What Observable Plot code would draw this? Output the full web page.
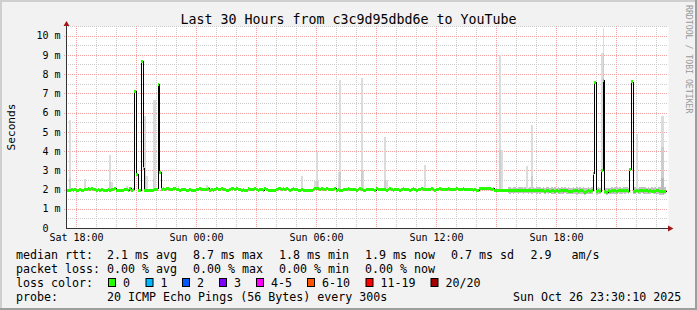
<!DOCTYPE html>
<html>
<head>
<meta charset="utf-8">
<script src="https://cdn.jsdelivr.net/npm/d3@7"></script>
<script src="https://cdn.jsdelivr.net/npm/@observablehq/plot@0.6"></script>
<style>
html, body { margin: 0; padding: 0; background: #f2f2f2; }
#chart { width: 697px; height: 310px; }
svg text { white-space: pre; }
</style>
</head>
<body>
<div id="chart"></div>
<script>
// ---------------- DATA ----------------
const titleText = "Last 30 Hours from c3c9d95dbd6e to YouTube";
const yAxisTitle = "Seconds";
const watermark = "RRDTOOL / TOBI OETIKER";

// 5-minute steps, starting Sat Oct 25 2025 17:30, ending Sun Oct 26 23:30
const startTime = Date.UTC(2025, 9, 25, 17, 30);
const endTime = Date.UTC(2025, 9, 26, 23, 30);
const stepMinutes = 5;

// median RTT (ms) per 5-minute step, 12 values per hour
const median = [
  1.96,1.95,2.0,2.03,1.98,2.02,1.96,1.99,2.03,2.0,1.97,2.02,
  2.05,2.06,2.04,2.06,2.05,2.03,2.0,2.04,1.98,2.01,1.96,1.99,
  2.0,2.03,1.97,2.05,2.02,2.06,1.99,1.96,2.0,1.96,1.97,2.03,
  2.05,2.0,2.06,1.98,2.02,7.1,2.8,2.0,1.96,8.7,3.1,1.97,
  1.96,1.95,2.0,1.97,1.99,2.03,2.05,7.5,2.9,2.04,2.06,2.05,
  2.08,2.07,2.03,2.05,2.08,2.06,2.01,2.04,1.98,2.02,2.05,2.03,
  2.0,1.97,2.01,1.96,1.95,2.0,2.04,2.03,2.06,2.02,2.05,2.04,
  2.03,2.06,2.0,2.05,1.99,2.04,2.07,2.05,2.03,2.08,2.04,2.02,
  2.0,1.97,2.04,2.06,2.1,2.05,2.08,2.03,2.04,2.0,2.03,1.97,
  2.0,2.06,2.04,2.02,2.05,2.07,2.04,1.99,2.03,2.01,1.97,2.06,
  2.04,2.0,1.97,1.96,2.0,1.97,2.04,2.06,2.1,2.05,2.07,2.03,
  2.06,2.04,2.0,2.03,2.07,2.05,2.02,1.98,1.99,2.04,2.0,1.98,
  1.97,1.97,1.98,1.99,2.04,2.07,2.1,2.06,2.04,2.08,2.05,2.03,
  2.07,2.05,2.03,2.04,2.02,2.06,1.99,2.04,2.0,1.97,2.02,2.05,
  2.04,2.06,2.03,2.01,2.05,2.03,1.98,2.02,2.06,2.03,2.0,1.99,
  2.02,2.04,2.03,2.05,2.02,2.0,2.06,2.03,2.04,2.01,2.05,2.02,
  1.99,2.02,2.06,2.03,2.0,2.04,2.05,2.01,1.98,2.03,2.06,2.02,
  2.05,2.03,2.0,2.04,2.06,2.02,1.99,2.03,2.05,2.07,2.02,2.04,
  2.01,2.05,2.03,2.06,2.02,2.0,2.04,2.03,2.07,2.04,2.01,2.05,
  2.03,2.06,2.04,2.02,2.05,2.03,2.07,2.05,2.02,2.04,2.06,2.03,
  2.05,2.02,2.04,2.03,1.99,2.02,2.0,1.98,2.08,2.09,2.1,2.08,
  2.09,2.06,2.07,2.05,2.08,1.96,1.96,1.97,1.96,1.96,1.97,1.96,
  1.96,1.97,1.95,1.97,1.96,1.98,1.96,1.95,1.97,1.96,1.98,1.96,
  1.97,1.95,1.96,1.98,1.96,1.97,1.95,1.96,1.97,1.95,1.96,1.94,
  1.96,1.95,1.93,1.95,1.97,1.94,1.96,1.92,1.95,1.97,1.93,1.96,
  1.95,1.93,1.9,1.94,1.96,1.95,1.97,1.93,1.95,1.96,1.92,1.88,
  1.93,1.96,1.92,1.95,2.88,7.6,1.9,1.95,1.93,3.0,7.7,1.92,
  1.88,1.95,1.93,1.96,1.92,1.95,1.94,1.97,1.95,1.99,1.96,1.98,
  1.96,1.94,3.05,7.62,1.9,1.93,1.96,1.92,1.95,1.97,1.94,1.96,
  1.95,1.92,1.96,1.94,1.97,1.93,1.95,1.96,1.92,1.94,1.85,1.9
];

// smoke spikes: step index, lightest top, mid top, dark top (ms)
const smokeIdx  = [2,   11,   26,  27,  36,  47,  48,  52,   53,   67,  84,   141, 149,  150,  151,  163,  164, 177, 178, 191,  192, 213,  215, 260, 261,  276, 279,  321, 322,  342, 357, 358];
const smokeTop  = [5.6, 2.55, 3.8, 2.4, 2.2, 5.8, 2.7, 6.67, 6.67, 2.2, 2.25, 2.7, 2.45, 3.97, 2.45, 2.93, 7.7, 7.8, 3.0, 4.75, 2.5, 2.15, 3.3, 9.0, 4.06, 3.2, 5.36, 9.1, 10.4, 4.9, 5.8, 5.8];
const smokeMid  = [2.6, null, 2.4, null,null,2.7, null, 2.6, null, null,null, null,null, 2.45, null, null, 2.93,3.0, null,2.5, null,null, null,4.06,null, null,2.7,  null,9.1,  null,4.2, 4.2];
const smokeLow  = [null,null,null,null,null,null,null,null, null, null,null, null,null, null, null, null, null,null,null,null, null,null, null,null,null, null,null, null,null, null,2.6, 2.6];

// smoke band around the median in the last hours: from step 265
const bandStart = 265;
const bandHi = [
  2.14,2.12,2.1,2.13,2.12,2.1,2.11,2.14,2.12,2.1,2.11,2.13,
  2.1,2.12,2.15,2.11,2.1,2.12,2.11,2.13,2.1,2.12,2.09,2.12,
  2.11,2.09,2.13,2.1,2.12,2.09,2.11,2.08,2.13,2.1,2.11,2.09,
  2.12,2.1,2.08,2.11,2.09,2.13,2.1,2.12,2.08,2.11,2.07,2.1,
  2.13,2.09,2.11,null,null,2.1,2.12,2.08,null,null,2.1,2.08,
  2.1,2.08,2.12,2.09,2.11,2.13,2.1,2.12,2.09,2.14,2.11,2.12,
  2.1,null,null,2.09,2.11,2.13,2.1,2.12,2.14,2.11,2.13,2.1,
  2.12,2.09,2.13,2.1,2.12,2.09,2.11,2.15,2.3,2.6,2.12
];
const bandLo = [
  1.8,1.78,1.82,1.79,1.8,1.83,1.78,1.8,1.81,1.79,1.82,1.8,
  1.79,1.81,1.78,1.8,1.82,1.79,1.8,1.77,1.81,1.8,1.78,1.8,
  1.78,1.8,1.77,1.79,1.76,1.8,1.78,1.75,1.79,1.77,1.8,1.76,
  1.78,1.75,1.79,1.76,1.78,1.74,1.77,1.79,1.75,1.78,1.72,1.76,
  1.79,1.76,1.78,null,null,1.74,1.77,1.75,null,null,1.76,1.73,
  1.76,1.78,1.75,1.79,1.76,1.78,1.8,1.77,1.79,1.81,1.78,1.8,
  1.78,null,null,1.75,1.77,1.8,1.76,1.78,1.8,1.77,1.79,1.76,
  1.78,1.76,1.8,1.77,1.79,1.75,1.78,1.74,1.73,1.72,1.75
];

// axis ticks
const xTickTimes = [Date.UTC(2025,9,25,18), Date.UTC(2025,9,26,0), Date.UTC(2025,9,26,6), Date.UTC(2025,9,26,12), Date.UTC(2025,9,26,18)];
const xTickLabels = ["Sat 18:00", "Sun 00:00", "Sun 06:00", "Sun 12:00", "Sun 18:00"];
const yTickValues = [0,1,2,3,4,5,6,7,8,9,10];
const yTickLabels = ["0\u00a0\u00a0","1 m","2 m","3 m","4 m","5 m","6 m","7 m","8 m","9 m","10 m"];

// legend
const rttLabel = "median rtt:";
const rttItems = ["2.1 ms avg", "8.7 ms max", "1.8 ms min", "1.9 ms now", "0.7 ms sd", "2.9", "am/s"];
const lossLabel = "packet loss:";
const lossItems = ["0.00 % avg", "0.00 % max", "0.00 % min", "0.00 % now"];
const colorLabel = "loss color:";
const lossColorNames = ["0", "1", "2", "3", "4-5", "6-10", "11-19", "20/20"];
const lossColors = ["#26ff00", "#00b8ff", "#0059ff", "#7e00ff", "#ff00ff", "#ff5500", "#ff0000", "#a10000"];
const probeLabel = "probe:";
const probeText = "20 ICMP Echo Pings (56 Bytes) every 300s";
const dateText = "Sun Oct 26 23:30:10 2025";

// ---------------- BUILD ----------------
const FONT = '"DejaVu Sans Mono", monospace';
const stepMs = stepMinutes * 60000;
const T = i => new Date(startTime + i * stepMs);
const start = new Date(startTime), end = new Date(endTime);

const steps = median.map((v, i) => ({t: T(i), t2: T(i + 1), v}));
const lineData = steps.map(d => ({t: d.t, v: d.v})).concat([{t: T(median.length), v: median[median.length - 1]}]);
const band = bandHi.map((h, k) => ({t: T(bandStart + k), t2: T(bandStart + k + 1), hi: h, lo: bandLo[k]})).filter(d => d.hi != null);
const smoke = smokeIdx.map((i, k) => ({t: T(i), t2: T(i + 1), base: median[i], top: smokeTop[k], mid: smokeMid[k], low: smokeLow[k]}));

const hours = d3.utcHour.range(d3.utcHour.ceil(start), end);
const majorV = hours.filter(d => d.getUTCHours() % 3 === 0);
const minorV = hours.filter(d => d.getUTCHours() % 3 !== 0);
const majorH = d3.range(1, 11);
const minorH = d3.range(0, 10).map(d => d + 0.5).concat([10.5]);

const gridMinor = "#cccccc", gridMajor = "#f2a0a0";
const crisp = {shapeRendering: "crispEdges"};

const plot = Plot.plot({
  width: 697, height: 310,
  marginLeft: 66, marginRight: 31, marginTop: 26, marginBottom: 82,
  x: {type: "utc", domain: [start, end]},
  y: {domain: [0, 10.5]},
  style: {background: "#f2f2f2", fontFamily: FONT, fontSize: "10px", color: "#000", overflow: "visible"},
  marks: [
    Plot.frame({fill: "#ffffff", stroke: "none", insetRight: -2}),
    Plot.ruleX(minorV, {stroke: gridMinor, strokeDasharray: "1,1", insetBottom: -2, ...crisp}),
    Plot.ruleY(minorH, {stroke: gridMinor, strokeDasharray: "1,1", insetRight: -2, ...crisp}),
    Plot.ruleX(majorV, {stroke: gridMajor, strokeDasharray: "1,1", insetBottom: -2, ...crisp}),
    Plot.ruleY(majorH, {stroke: gridMajor, strokeDasharray: "1,1", insetRight: -2, insetLeft: -2, ...crisp}),
    Plot.rect(band, {x1: "t", x2: "t2", y1: "lo", y2: "hi", fill: "#c2c2c2", ...crisp}),
    Plot.rect(smoke.filter(d => d.top != null), {x1: "t", x2: "t2", y1: "base", y2: "top", fill: "#dcdcdc", ...crisp}),
    Plot.rect(smoke.filter(d => d.mid != null), {x1: "t", x2: "t2", y1: "base", y2: "mid", fill: "#cdcdcd", ...crisp}),
    Plot.rect(smoke.filter(d => d.low != null), {x1: "t", x2: "t2", y1: "base", y2: "low", fill: "#bababa", ...crisp}),
    Plot.line(lineData, {x: "t", y: "v", curve: "step-after", stroke: "#000", strokeWidth: 1, ...crisp}),
    Plot.ruleY(steps, {y: "v", x1: "t", x2: "t2", stroke: lossColors[0], strokeWidth: 3, ...crisp}),
    Plot.ruleX([start], {stroke: "#333", ...crisp}),
    Plot.ruleY([0], {stroke: "#333", insetRight: -2, ...crisp}),
    Plot.axisX(xTickTimes.map(d => new Date(d)), {tickSize: 0, tickPadding: 5, fontSize: 10, label: null,
      tickFormat: d => xTickLabels[xTickTimes.indexOf(+d)]}),
    Plot.axisY(yTickValues, {tickSize: 0, tickPadding: 6, fontSize: 10, label: null,
      tickFormat: d => yTickLabels[yTickValues.indexOf(d)]})
  ]
});
document.getElementById("chart").appendChild(plot);

// ---------------- DECORATIONS ----------------
const svg = d3.select(plot);
const sx = plot.scale("x"), sy = plot.scale("y");
const ax = Math.round(sx.apply(start)) + 0.5;
const ay = Math.round(sy.apply(0)) + 0.5;
const aTop = sy.apply(10.5);
const aEnd = sx.apply(end) + 2;
const arrowColor = "#a01818";
svg.append("path").attr("fill", arrowColor)
  .attr("d", `M${ax},${aTop - 5}L${ax - 3},${aTop}L${ax + 3},${aTop}Z`);
svg.append("path").attr("fill", arrowColor)
  .attr("d", `M${aEnd + 5.5},${ay}L${aEnd},${ay - 3}L${aEnd},${ay + 3}Z`);

const g = svg.append("g").attr("font-family", FONT).attr("fill", "#000").attr("text-anchor", "start");
g.append("text").attr("x", 348.5).attr("y", 24).attr("text-anchor", "middle").attr("font-size", 13.3).text(titleText);
g.append("text").attr("transform", "translate(15,127) rotate(-90)").attr("text-anchor", "middle").attr("font-size", 11.2).text(yAxisTitle);
g.append("text").attr("transform", "translate(685.5,5) rotate(90)").attr("font-size", 8.2).attr("fill", "#999999").text(watermark);

const LF = 11.65;
const colX = [107, 193, 279, 365, 451, 530.5, 571.5];
const rows = [258.5, 272.5, 286.5, 300.5];
g.append("text").attr("x", 16).attr("y", rows[0]).attr("font-size", LF).text(rttLabel);
rttItems.forEach((s, i) => g.append("text").attr("x", colX[i]).attr("y", rows[0]).attr("font-size", LF).text(s));
g.append("text").attr("x", 16).attr("y", rows[1]).attr("font-size", LF).text(lossLabel);
lossItems.forEach((s, i) => g.append("text").attr("x", colX[i]).attr("y", rows[1]).attr("font-size", LF).text(s));
g.append("text").attr("x", 16).attr("y", rows[2]).attr("font-size", LF).text(colorLabel);
const boxX = [108, 145.5, 182, 219, 256, 307, 365.5, 430.5];
lossColorNames.forEach((s, i) => {
  g.append("rect").attr("x", boxX[i] + 0.5).attr("y", 278.5).attr("width", 7).attr("height", 8)
    .attr("fill", lossColors[i]).attr("stroke", "#000").attr("stroke-width", 1);
  g.append("text").attr("x", boxX[i] + 15).attr("y", rows[2]).attr("font-size", LF).text(s);
});
g.append("text").attr("x", 16).attr("y", rows[3]).attr("font-size", LF).text(probeLabel);
g.append("text").attr("x", 107).attr("y", rows[3]).attr("font-size", LF).text(probeText);
g.append("text").attr("x", 513).attr("y", rows[3]).attr("font-size", LF).text(dateText);

// 3D frame
svg.append("rect").attr("x", 0).attr("y", 0).attr("width", 697).attr("height", 2).attr("fill", "#cfcfcf");
svg.append("rect").attr("x", 0).attr("y", 0).attr("width", 2).attr("height", 310).attr("fill", "#cfcfcf");
svg.append("rect").attr("x", 695).attr("y", 0).attr("width", 2).attr("height", 310).attr("fill", "#9e9e9e");
svg.append("rect").attr("x", 0).attr("y", 308).attr("width", 697).attr("height", 2).attr("fill", "#9e9e9e");
</script>
</body>
</html>
